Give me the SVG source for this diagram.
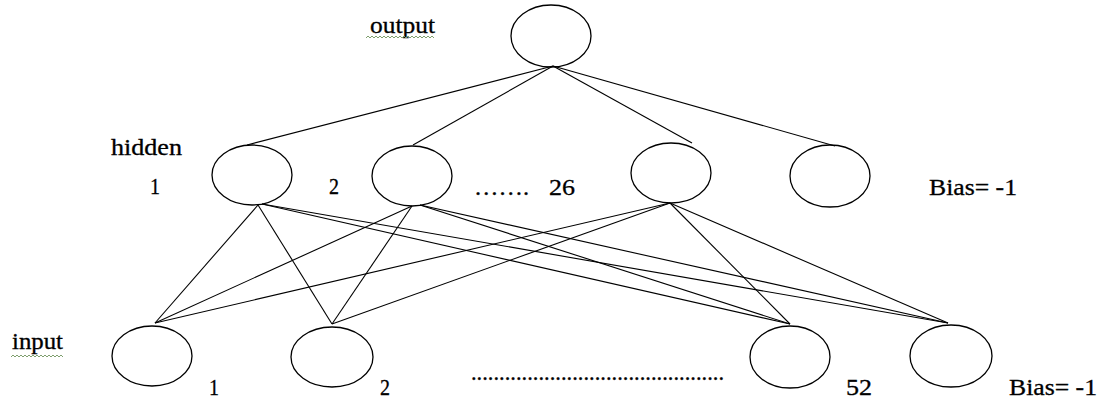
<svg xmlns="http://www.w3.org/2000/svg" width="1099" height="398" viewBox="0 0 1099 398">
<style>
.n{fill:none;stroke:#000;stroke-width:1.3}
.c line{stroke:#000;stroke-width:1.1}
.sq{fill:none;stroke:#7f9f6e;stroke-width:1}
</style>
<rect width="1099" height="398" fill="#fff"/>
<g id="connectors" class="c">
<line x1="553" y1="66" x2="247" y2="145"/>
<line x1="553" y1="66" x2="413" y2="145"/>
<line x1="553" y1="66" x2="692" y2="143"/>
<line x1="553" y1="66" x2="835" y2="146"/>
<line x1="258" y1="205" x2="155" y2="323"/>
<line x1="258" y1="205" x2="332" y2="324"/>
<line x1="262" y1="204" x2="790" y2="324"/>
<line x1="262" y1="204" x2="948" y2="323"/>
<line x1="412" y1="206" x2="155" y2="323"/>
<line x1="412" y1="206" x2="332" y2="324"/>
<line x1="420" y1="205" x2="790" y2="324"/>
<line x1="420" y1="205" x2="948" y2="323"/>
<line x1="670" y1="203" x2="155" y2="323"/>
<line x1="670" y1="203" x2="332" y2="324"/>
<line x1="670" y1="203" x2="790" y2="324"/>
<line x1="670" y1="203" x2="948" y2="323"/>
</g>
<g id="output"><ellipse class="n" cx="551" cy="36" rx="40" ry="31"/></g>
<g id="hidden1"><ellipse class="n" cx="252" cy="175" rx="40" ry="30"/></g>
<g id="hidden2"><ellipse class="n" cx="412" cy="176" rx="40" ry="30"/></g>
<g id="hidden26"><ellipse class="n" cx="671" cy="173" rx="40" ry="30"/></g>
<g id="hiddenBias"><ellipse class="n" cx="830" cy="176" rx="40" ry="31"/></g>
<g id="input1"><ellipse class="n" cx="152" cy="356" rx="40" ry="30"/></g>
<g id="input2"><ellipse class="n" cx="332" cy="357" rx="41" ry="30"/></g>
<g id="input52"><ellipse class="n" cx="790" cy="357" rx="40" ry="31"/></g>
<g id="inputBias"><ellipse class="n" cx="951" cy="356" rx="41" ry="31"/></g>
<g id="labels" font-family="'Liberation Serif', 'DejaVu Serif', serif" font-size="23" fill="#000" stroke="#000" stroke-width="0.3" lengthAdjust="spacingAndGlyphs">
<text x="370" y="33" textLength="65" lengthAdjust="spacingAndGlyphs">output</text>
<polyline class="sq" points="366,38 368,36 370,38 372,36 374,38 376,36 378,38 380,36 382,38 384,36 386,38 388,36 390,38 392,36 394,38 396,36 398,38 400,36 402,38 404,36 406,38 408,36 410,38 412,36 414,38 416,36 418,38 420,36 422,38 424,36 426,38 428,36 430,38 432,36 434,38"/>
<text x="111" y="155" textLength="71" lengthAdjust="spacingAndGlyphs">hidden</text>
<text x="150" y="194" textLength="10" lengthAdjust="spacingAndGlyphs">1</text>
<text x="329" y="194" textLength="10" lengthAdjust="spacingAndGlyphs">2</text>
<text x="474" y="195" textLength="55" lengthAdjust="spacingAndGlyphs">…….</text>
<text x="549" y="195" textLength="26" lengthAdjust="spacingAndGlyphs">26</text>
<text x="929" y="195" textLength="88" lengthAdjust="spacingAndGlyphs">Bias= -1</text>
<text x="12" y="349" textLength="51" lengthAdjust="spacingAndGlyphs">input</text>
<polyline class="sq" points="11,357 13,355 15,357 17,355 19,357 21,355 23,357 25,355 27,357 29,355 31,357 33,355 35,357 37,355 39,357 41,355 43,357 45,355 47,357 49,355 51,357 53,355 55,357 57,355 59,357 61,355 63,357"/>
<text x="209" y="395" textLength="10" lengthAdjust="spacingAndGlyphs">1</text>
<text x="380" y="395" textLength="10" lengthAdjust="spacingAndGlyphs">2</text>
<text x="471" y="380" textLength="253" lengthAdjust="spacingAndGlyphs">.............................................</text>
<text x="846" y="395" textLength="26" lengthAdjust="spacingAndGlyphs">52</text>
<text x="1009" y="395" textLength="88" lengthAdjust="spacingAndGlyphs">Bias= -1</text>
</g>
</svg>
